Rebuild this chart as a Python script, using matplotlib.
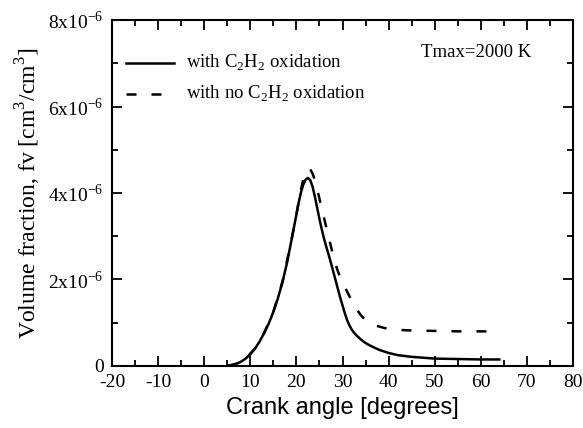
import numpy as np
import matplotlib
matplotlib.use('Agg')
import matplotlib.pyplot as plt
from matplotlib.ticker import MultipleLocator, FuncFormatter

plt.rcParams['mathtext.fontset'] = 'custom'
plt.rcParams['mathtext.rm'] = 'Liberation Serif'
plt.rcParams['axes.unicode_minus'] = False

# Curva con oxidacion de C2H2 (valores en 1e-6)
ang_con = [5, 6, 7, 8, 9, 10, 11, 12, 13, 14, 15, 16, 17, 18, 19, 20, 20.5,
           21, 21.5, 22, 22.5, 23, 23.5, 24, 24.5, 25, 25.5, 26, 26.5, 27,
           27.5, 28, 28.5, 29, 29.5, 30, 30.5, 31, 31.5, 32, 32.5, 33, 34, 35,
           36, 37, 38, 40, 42, 45, 50, 55, 60, 64]
fv_con = [0.0, 0.02, 0.05, 0.1, 0.17, 0.27, 0.4, 0.56, 0.76, 0.98, 1.25, 1.57,
          1.95, 2.4, 2.95, 3.5, 3.78, 4.02, 4.2, 4.31, 4.35, 4.3, 4.15, 3.92,
          3.66, 3.4, 3.16, 2.94, 2.75, 2.57, 2.38, 2.18, 1.98, 1.78, 1.58, 1.4,
          1.22, 1.06, 0.94, 0.84, 0.77, 0.71, 0.61, 0.53, 0.47, 0.42, 0.37,
          0.3, 0.25, 0.21, 0.17, 0.16, 0.15, 0.15]

# Curva sin oxidacion de C2H2
ang_sin = [5, 7, 9, 11, 13, 15, 17, 19, 20, 20.5, 21, 21.5, 22, 22.5, 23,
           23.5, 24, 24.5, 25, 25.5, 26, 26.5, 27, 27.5, 28, 28.5, 29, 29.5,
           30, 31, 32, 33, 34, 35, 36, 37, 39, 41, 45, 50, 55, 60, 64]
fv_sin = [0.0, 0.05, 0.17, 0.4, 0.76, 1.25, 1.95, 2.95, 3.5, 3.8, 4.08, 4.32,
          4.48, 4.56, 4.55, 4.45, 4.3, 4.1, 3.87, 3.64, 3.42, 3.2, 2.98, 2.76,
          2.54, 2.35, 2.19, 2.05, 1.93, 1.72, 1.51, 1.32, 1.17, 1.06, 0.99,
          0.94, 0.88, 0.84, 0.82, 0.81, 0.8, 0.8, 0.8]

fig = plt.figure(figsize=(5.83, 4.28), dpi=100)
ax = fig.add_axes([0.192, 0.145, 0.791, 0.808])

ax.plot(ang_con, np.array(fv_con) * 1e-6, color='black', lw=1.8)
ax.plot(ang_sin, np.array(fv_sin) * 1e-6, color='black', lw=1.8,
        linestyle=(0, (4, 6)))

ax.set_xlim(-20, 80)
ax.set_ylim(0, 8e-6)
ax.xaxis.set_major_locator(MultipleLocator(10))
ax.xaxis.set_minor_locator(MultipleLocator(5))
ax.yaxis.set_major_locator(MultipleLocator(2e-6))
ax.yaxis.set_minor_locator(MultipleLocator(1e-6))


def fmt_y(v, pos):
    n = int(round(v * 1e6))
    if n == 0:
        return '0'
    return r'%dx10$^{\mathregular{-6}}$' % n


ax.yaxis.set_major_formatter(FuncFormatter(fmt_y))
ax.tick_params(which='both', direction='in', top=True, right=True, width=1.3)
ax.tick_params(which='major', length=7, labelsize=14, pad=6)
ax.tick_params(which='minor', length=4)
for lab in ax.get_xticklabels() + ax.get_yticklabels():
    lab.set_family('Liberation Serif')
for s in ax.spines.values():
    s.set_linewidth(1.5)

ax.set_xlabel('Crank angle [degrees]', family='Liberation Sans', fontsize=17,
              labelpad=4)
ax.set_ylabel(r'Volume fraction, fv [cm$^{\mathregular{3}}$/cm$^{\mathregular{3}}$]',
              family='Liberation Serif', fontsize=17, labelpad=4)

# Leyenda dibujada a mano
ax.plot([-17, -6.5], [7.0e-6, 7.0e-6], color='black', lw=1.8)
ax.plot([-17, -6.5], [6.3e-6, 6.3e-6], color='black', lw=1.8,
        linestyle=(0, (4, 6)))
ax.text(-4, 7.0e-6, r'with C$_{\mathregular{2}}$H$_{\mathregular{2}}$ oxidation',
        family='Liberation Serif', fontsize=13.5, va='center')
ax.text(-4, 6.3e-6, r'with no C$_{\mathregular{2}}$H$_{\mathregular{2}}$ oxidation',
        family='Liberation Serif', fontsize=13.5, va='center')
ax.text(47, 7.25e-6, 'Tmax=2000 K', family='Liberation Serif', fontsize=13.5,
        va='center')

fig.savefig('out.png', dpi=100)
